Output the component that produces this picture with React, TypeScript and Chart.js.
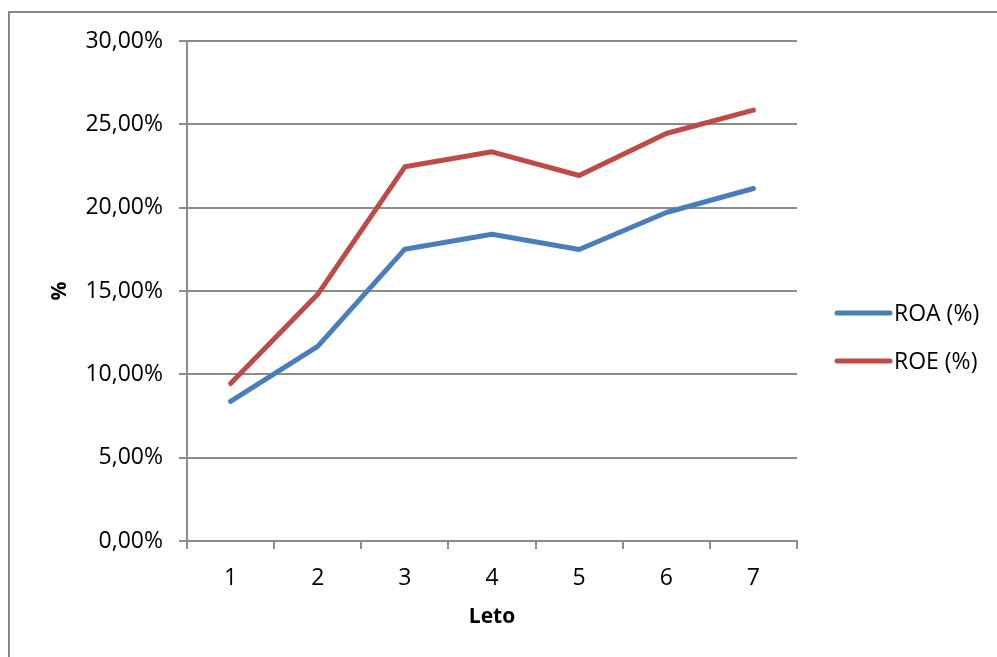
import React, { useEffect, useRef } from "react";
import { Chart, registerables } from "chart.js";

Chart.register(...registerables);

// Years (category axis) and the two profitability ratios, in percent
const years: string[] = ["1", "2", "3", "4", "5", "6", "7"];
const roaValues: number[] = [8.38, 11.68, 17.51, 18.41, 17.49, 19.71, 21.15];
const roeValues: number[] = [9.45, 14.8, 22.45, 23.35, 21.93, 24.45, 25.85];
const yTickValues: number[] = [0, 5, 10, 15, 20, 25, 30];

const FONT = "'Open Sans', 'Liberation Sans', sans-serif";
const GRID = "#8c8c8c";

// Line-sample legend drawn to the right of the plot area
const sideLegend = {
  id: "sideLegend",
  afterDraw(chart: any) {
    const { ctx, chartArea } = chart;
    const x0 = chartArea.right + 40;
    const x1 = x0 + 53;
    const rows = [313, 361];
    chart.data.datasets.forEach((ds: any, i: number) => {
      const y = rows[i];
      ctx.save();
      ctx.strokeStyle = ds.borderColor;
      ctx.lineWidth = 5;
      ctx.lineCap = "round";
      ctx.beginPath();
      ctx.moveTo(x0, y);
      ctx.lineTo(x1, y);
      ctx.stroke();
      ctx.fillStyle = "#000";
      ctx.font = `23px ${FONT}`;
      ctx.textBaseline = "middle";
      ctx.textAlign = "left";
      ctx.fillText(ds.label, x1 + 4, y + 1);
      ctx.restore();
    });
  },
};

export default function App() {
  const canvasRef = useRef<HTMLCanvasElement | null>(null);

  useEffect(() => {
    if (!canvasRef.current) return;
    const chart = new Chart(canvasRef.current, {
      type: "line",
      data: {
        labels: years,
        datasets: [
          {
            label: "ROA (%)",
            data: roaValues,
            borderColor: "#4a7ebb",
            backgroundColor: "#4a7ebb",
            borderWidth: 5,
            pointRadius: 0,
            tension: 0,
            borderCapStyle: "round",
            borderJoinStyle: "round",
          },
          {
            label: "ROE (%)",
            data: roeValues,
            borderColor: "#be4b48",
            backgroundColor: "#be4b48",
            borderWidth: 5,
            pointRadius: 0,
            tension: 0,
            borderCapStyle: "round",
            borderJoinStyle: "round",
          },
        ],
      },
      options: {
        responsive: false,
        animation: false,
        layout: { padding: { left: 0, top: 41, right: 200, bottom: 0 } },
        plugins: {
          legend: { display: false },
          tooltip: { enabled: false },
        },
        scales: {
          x: {
            offset: true,
            grid: {
              offset: true,
              drawOnChartArea: false,
              drawTicks: true,
              tickLength: 8,
              color: GRID,
              lineWidth: 2,
            },
            border: { display: true, color: GRID, width: 2 },
            ticks: {
              color: "#000",
              font: { family: FONT, size: 23 },
              padding: 16,
            },
            title: {
              display: true,
              text: "Leto",
              color: "#000",
              font: { family: FONT, size: 21, weight: "bold" },
              padding: { top: 0, bottom: 27 },
            },
            afterFit(scale: any) {
              scale.height = 116;
            },
          },
          y: {
            min: 0,
            max: 30,
            afterBuildTicks(scale: any) {
              scale.ticks = yTickValues.map((v) => ({ value: v }));
            },
            grid: {
              drawTicks: true,
              tickLength: 8,
              color: GRID,
              lineWidth: 2,
            },
            border: { display: true, color: GRID, width: 2 },
            ticks: {
              color: "#000",
              font: { family: FONT, size: 23 },
              padding: 16,
              callback: (v: any) => Number(v).toFixed(2).replace(".", ",") + "%",
            },
            title: {
              display: true,
              text: "%",
              color: "#000",
              font: { family: FONT, size: 21, weight: "bold" },
              padding: { top: 47, bottom: 0 },
            },
            afterFit(scale: any) {
              scale.width = 187;
            },
          },
        },
      },
      plugins: [sideLegend],
    });
    return () => chart.destroy();
  }, []);

  return (
    <div
      style={{
        position: "fixed",
        left: 0,
        top: 0,
        width: 997,
        height: 657,
        overflow: "hidden",
        background: "#fff",
      }}
    >
      <div
        style={{
          position: "absolute",
          left: 8,
          top: 11,
          width: 1200,
          height: 900,
          borderLeft: "2px solid #868686",
          borderTop: "2px solid #868686",
        }}
      />
      <canvas
        ref={canvasRef}
        width={997}
        height={657}
        style={{ position: "absolute", left: 0, top: 0 }}
      />
    </div>
  );
}
